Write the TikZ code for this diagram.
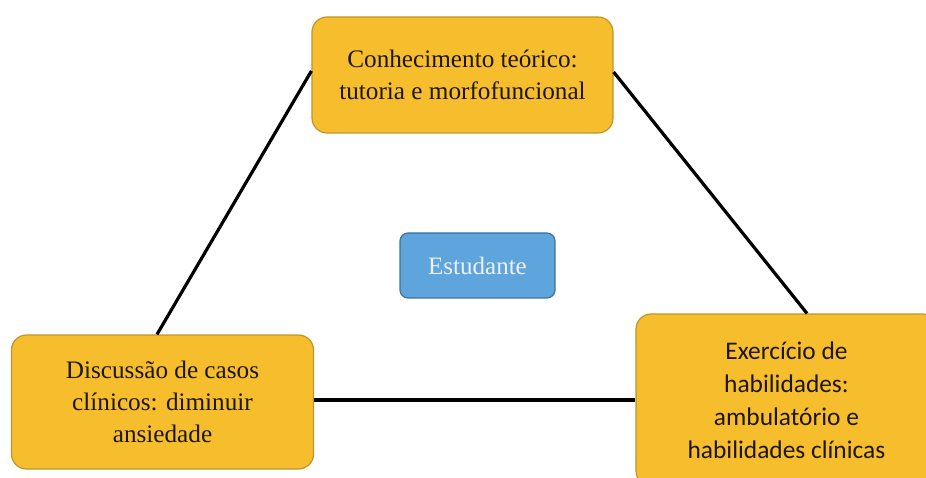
\documentclass[tikz,border=0pt]{standalone}
\usepackage{fontspec}
\setmainfont{Liberation Serif}
\newfontfamily\calibrifont{Carlito}
\usepackage{tikz}

\definecolor{goldfill}{HTML}{F6BE2C}
\definecolor{goldline}{HTML}{BE952E}
\definecolor{bluefill}{HTML}{5DA5DC}
\definecolor{blueline}{HTML}{41719C}
\definecolor{inktext}{HTML}{1E160C}

\begin{document}
\begin{tikzpicture}[x=1pt, y=-1pt,
    goldbox/.style={draw=goldline, line width=1.2pt, fill=goldfill, rounded corners=15pt,
      align=center, inner sep=0pt, text=inktext,
      font=\fontsize{25.2}{32}\selectfont},
    bluebox/.style={draw=blueline, line width=1.2pt, fill=bluefill, rounded corners=8pt,
      inner sep=0pt, text=white!94!black, font=\fontsize{25}{32}\selectfont},
    link/.style={line width=3.2pt, black}]
  \useasboundingbox (0,0) rectangle (926,478);
  \clip (0,0) rectangle (926,478);
  % Triangle of activities
  \node[goldbox, minimum width=301pt, minimum height=116pt] (teoria) at (462.5,75)
    {Conhecimento te\'orico:\\tutoria e morfofuncional};
  \node[goldbox, minimum width=302pt, minimum height=134pt] (casos) at (162.5,402)
    {Discuss\~ao de casos\\cl\'inicos: diminuir\\ansiedade};
  \node[goldbox, minimum width=301pt, minimum height=172pt,
    font=\calibrifont\fontsize{25.4}{33}\selectfont] (pratica) at (786.5,400)
    {Exerc\'icio de\\habilidades:\\ambulat\'orio e\\habilidades cl\'inicas};
  \node[bluebox, minimum width=155pt, minimum height=65pt] (estudante) at (477.5,265.5)
    {Estudante};

  \draw[link] ([yshift=4pt]teoria.west) to ([xshift=-5.5pt]casos.north);
  \draw[link] ([yshift=3pt]teoria.east) to ([xshift=20.5pt]pratica.north);
  \draw[link] (casos.east |- pratica.west) to (pratica.west);

\end{tikzpicture}
\end{document}
